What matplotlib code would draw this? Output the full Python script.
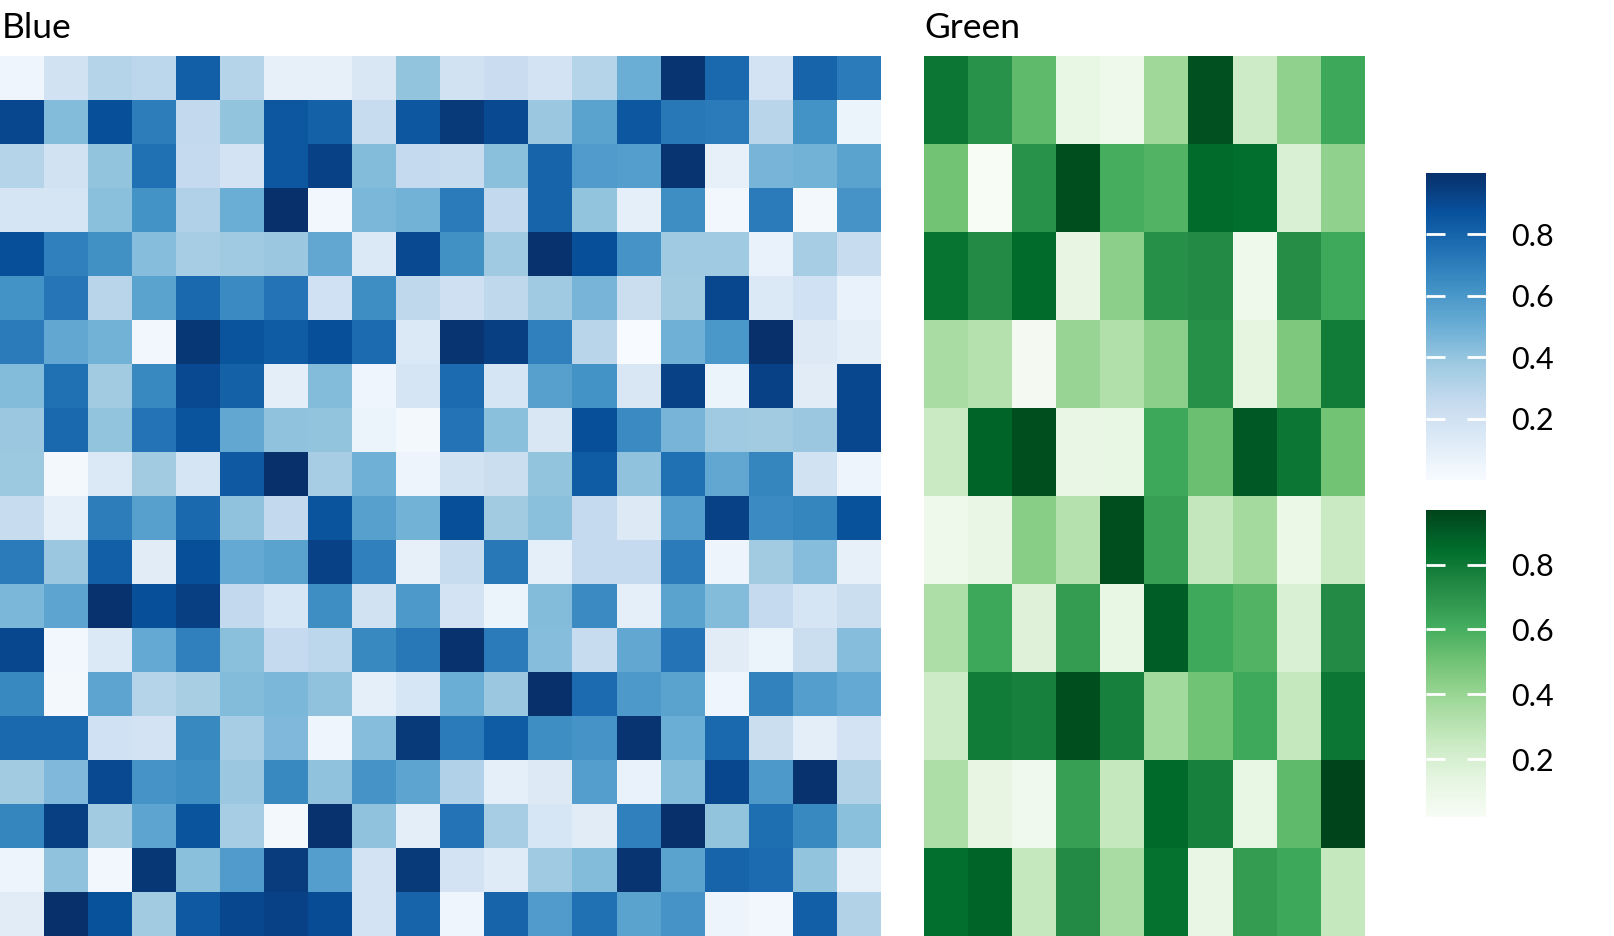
import numpy as np
import matplotlib
matplotlib.use("Agg")
import matplotlib.pyplot as plt

plt.rcParams['font.family'] = ['Lato', 'DejaVu Sans']

# values, top row first
blue = [
    [0.04, 0.19, 0.30, 0.28, 0.82, 0.30, 0.08, 0.08, 0.15, 0.40, 0.19, 0.23, 0.18, 0.30, 0.50, 0.98, 0.78, 0.18, 0.80, 0.71],
    [0.91, 0.44, 0.88, 0.70, 0.26, 0.40, 0.85, 0.81, 0.24, 0.85, 0.96, 0.90, 0.38, 0.55, 0.85, 0.72, 0.71, 0.29, 0.62, 0.06],
    [0.30, 0.19, 0.40, 0.75, 0.25, 0.18, 0.85, 0.93, 0.44, 0.25, 0.24, 0.42, 0.80, 0.58, 0.57, 0.98, 0.08, 0.47, 0.48, 0.55],
    [0.17, 0.17, 0.42, 0.62, 0.32, 0.50, 1.00, 0.03, 0.46, 0.48, 0.71, 0.26, 0.80, 0.40, 0.09, 0.64, 0.03, 0.71, 0.02, 0.61],
    [0.88, 0.69, 0.625, 0.43, 0.35, 0.37, 0.38, 0.53, 0.14, 0.90, 0.625, 0.37, 0.99, 0.88, 0.61, 0.37, 0.37, 0.07, 0.35, 0.24],
    [0.62, 0.73, 0.29, 0.55, 0.78, 0.65, 0.74, 0.20, 0.64, 0.27, 0.21, 0.27, 0.37, 0.47, 0.22, 0.36, 0.91, 0.14, 0.20, 0.07],
    [0.71, 0.53, 0.48, 0.03, 0.97, 0.86, 0.83, 0.88, 0.77, 0.14, 0.98, 0.94, 0.69, 0.29, 0.00, 0.49, 0.60, 1.00, 0.125, 0.10],
    [0.44, 0.75, 0.36, 0.66, 0.90, 0.81, 0.10, 0.44, 0.04, 0.17, 0.77, 0.17, 0.56, 0.62, 0.15, 0.93, 0.06, 0.93, 0.11, 0.91],
    [0.38, 0.78, 0.40, 0.74, 0.86, 0.53, 0.41, 0.40, 0.06, 0.02, 0.74, 0.42, 0.15, 0.88, 0.65, 0.47, 0.37, 0.36, 0.38, 0.91],
    [0.375, 0.02, 0.14, 0.36, 0.17, 0.84, 1.00, 0.35, 0.49, 0.05, 0.19, 0.22, 0.40, 0.83, 0.41, 0.75, 0.53, 0.67, 0.19, 0.05],
    [0.24, 0.09, 0.70, 0.56, 0.78, 0.41, 0.26, 0.86, 0.56, 0.48, 0.88, 0.36, 0.42, 0.25, 0.13, 0.57, 0.93, 0.65, 0.67, 0.87],
    [0.71, 0.38, 0.82, 0.11, 0.88, 0.52, 0.55, 0.93, 0.69, 0.08, 0.24, 0.72, 0.09, 0.25, 0.25, 0.71, 0.05, 0.36, 0.43, 0.08],
    [0.46, 0.54, 0.99, 0.88, 0.94, 0.26, 0.16, 0.64, 0.19, 0.59, 0.18, 0.06, 0.44, 0.65, 0.09, 0.55, 0.44, 0.25, 0.17, 0.22],
    [0.91, 0.03, 0.14, 0.52, 0.69, 0.42, 0.25, 0.28, 0.66, 0.72, 0.99, 0.71, 0.43, 0.24, 0.53, 0.74, 0.11, 0.06, 0.22, 0.43],
    [0.66, 0.02, 0.54, 0.30, 0.34, 0.44, 0.46, 0.41, 0.09, 0.16, 0.50, 0.38, 1.00, 0.77, 0.59, 0.55, 0.04, 0.68, 0.57, 0.52],
    [0.78, 0.78, 0.20, 0.18, 0.66, 0.35, 0.45, 0.04, 0.43, 0.96, 0.71, 0.83, 0.64, 0.61, 0.98, 0.50, 0.78, 0.22, 0.10, 0.18],
    [0.36, 0.45, 0.90, 0.61, 0.64, 0.38, 0.66, 0.41, 0.61, 0.54, 0.32, 0.09, 0.125, 0.57, 0.07, 0.44, 0.91, 0.59, 0.99, 0.31],
    [0.67, 0.94, 0.36, 0.54, 0.86, 0.35, 0.02, 0.99, 0.41, 0.10, 0.74, 0.35, 0.16, 0.11, 0.69, 1.00, 0.40, 0.76, 0.66, 0.42],
    [0.05, 0.41, 0.03, 0.97, 0.42, 0.58, 0.95, 0.57, 0.18, 0.96, 0.18, 0.12, 0.37, 0.44, 0.98, 0.55, 0.80, 0.77, 0.40, 0.08],
    [0.11, 1.00, 0.87, 0.36, 0.84, 0.91, 0.93, 0.89, 0.18, 0.80, 0.04, 0.80, 0.58, 0.75, 0.55, 0.61, 0.05, 0.03, 0.82, 0.31],
]

green = [
    [0.807, 0.703, 0.542, 0.117, 0.079, 0.377, 0.930, 0.230, 0.419, 0.627],
    [0.495, 0.022, 0.703, 0.940, 0.599, 0.571, 0.850, 0.836, 0.183, 0.419],
    [0.817, 0.732, 0.850, 0.126, 0.429, 0.713, 0.732, 0.079, 0.722, 0.618],
    [0.353, 0.315, 0.041, 0.400, 0.325, 0.429, 0.713, 0.140, 0.467, 0.788],
    [0.249, 0.873, 0.940, 0.107, 0.117, 0.627, 0.514, 0.902, 0.807, 0.495],
    [0.079, 0.107, 0.438, 0.315, 0.940, 0.656, 0.268, 0.363, 0.098, 0.249],
    [0.334, 0.627, 0.164, 0.665, 0.117, 0.892, 0.618, 0.571, 0.183, 0.732],
    [0.230, 0.788, 0.769, 0.940, 0.769, 0.372, 0.504, 0.618, 0.259, 0.807],
    [0.334, 0.126, 0.069, 0.656, 0.259, 0.854, 0.769, 0.117, 0.542, 0.968],
    [0.836, 0.873, 0.259, 0.732, 0.353, 0.826, 0.107, 0.665, 0.627, 0.259],
]

panels = ["Blue", "Green"]
cmaps = ["Blues", "Greens"]
cbar_ticks = [0.2, 0.4, 0.6, 0.8]

W, H = 1614, 936
fig = plt.figure(figsize=(W / 100, H / 100), dpi=100)

def px(l, t, w, h):
    return [l / W, 1 - (t + h) / H, w / W, h / H]

ax_b = fig.add_axes(px(0, 56, 880, 880))
ax_g = fig.add_axes(px(924, 56, 440, 880))

ims = []
for ax, data, cm, name, x0 in zip([ax_b, ax_g], [blue, green], cmaps, panels, [2, 924]):
    arr = np.array(data)
    # colour scale runs from the data minimum to the maximum
    im = ax.imshow(arr, cmap=cm, vmin=arr.min(), vmax=arr.max(), aspect='auto',
                   interpolation='nearest')
    ax.set_axis_off()
    fig.text(x0 / W, 1 - 38 / H, name, fontsize=25.5, va='baseline', ha='left')
    ims.append(im)

# colourbars, ggplot style: white ticks inside the bar
for im, top in zip(ims, [173, 510]):
    cax = fig.add_axes(px(1426, top, 60, 307))
    cb = fig.colorbar(im, cax=cax, ticks=cbar_ticks)
    cb.outline.set_visible(False)
    cax.tick_params(direction='in', colors='white', length=14, width=2,
                    left=True, right=True, labelleft=False, labelright=True,
                    labelcolor='black', labelsize=22, pad=18)

fig.savefig("out.png", dpi=100)
